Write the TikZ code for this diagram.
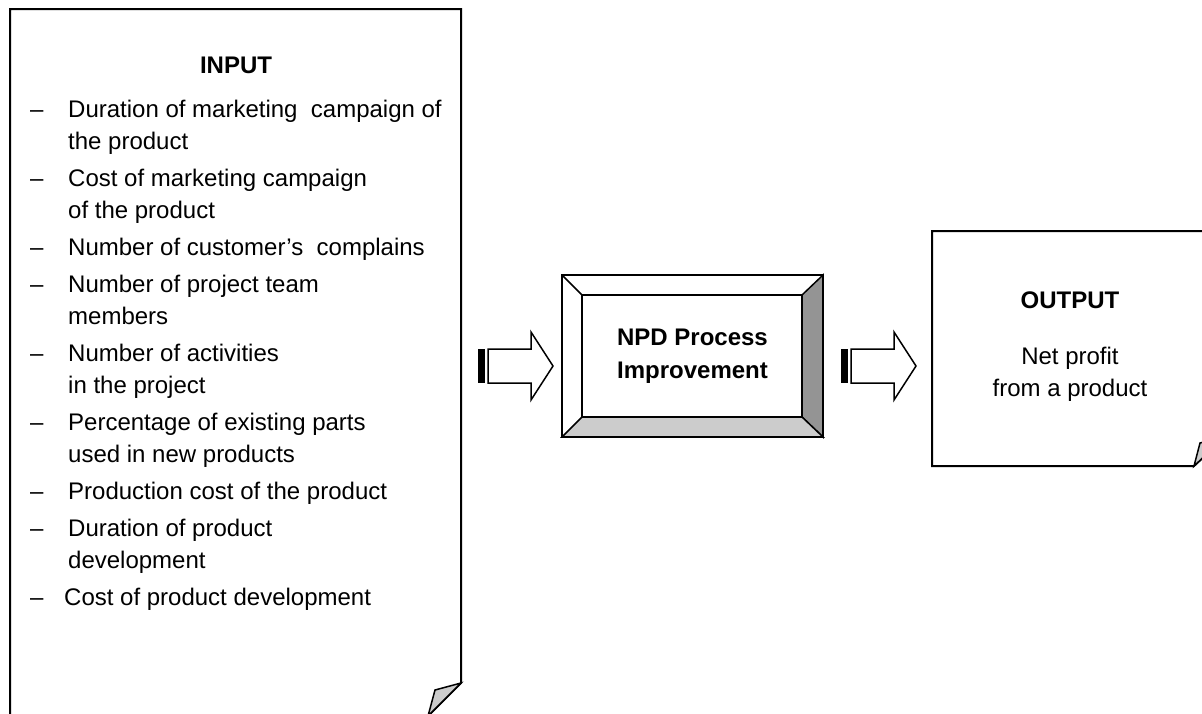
\documentclass[tikz,border=0pt]{standalone}
\usepackage{fontspec}
\setmainfont{Liberation Sans}
\begin{document}
\begin{tikzpicture}[x=1pt,y=-1pt,line join=miter,
  txt/.style={inner sep=0pt,anchor=base west,font=\fontsize{24}{32}\selectfont},
  ctxt/.style={inner sep=0pt,anchor=base,font=\fontsize{24}{32}\selectfont},
  hdr/.style={inner sep=0pt,anchor=base,font=\fontsize{24}{32}\selectfont\bfseries},
  docbox/.style={draw=black,line width=2pt,fill=white},
  foldcorner/.style={draw=black,line width=1.5pt,fill=black!20},
  stripearrow/.pic={
    \fill[black] (0,-17) rectangle (6.5,17);
    \draw[line width=1.5pt,fill=white] (10,-17) -- (53,-17) -- (53,-34) -- (75,0)
      -- (53,34) -- (53,17) -- (10,17) -- cycle;
  }]
\useasboundingbox (0,0) rectangle (1202,713);
\clip (0,0) rectangle (1202,713);

% ---------- INPUT document ----------
\draw[docbox] (10,716) -- (10,9) -- (461,9) -- (461,683) -- (428,716) -- cycle;
\draw[foldcorner] (428,716) -- (435,690) -- (461,683) -- cycle;
\node[hdr] (inhdr) at (236,73) {INPUT};

\node[txt] (d1) at (30,117) {\textendash};
\node[txt] (t1a) at (68,117) {Duration of marketing~ campaign of};
\node[txt] (t1b) at (68,149) {the product};
\node[txt] (d2) at (30,186) {\textendash};
\node[txt] (t2a) at (68,186) {Cost of marketing campaign};
\node[txt] (t2b) at (68,218) {of the product};
\node[txt] (d3) at (30,255) {\textendash};
\node[txt] (t3a) at (68,255) {Number of customer’s~ complains};
\node[txt] (d4) at (30,292) {\textendash};
\node[txt] (t4a) at (68,292) {Number of project team};
\node[txt] (t4b) at (68,324) {members};
\node[txt] (d5) at (30,361) {\textendash};
\node[txt] (t5a) at (68,361) {Number of activities};
\node[txt] (t5b) at (68,393) {in the project};
\node[txt] (d6) at (30,430) {\textendash};
\node[txt] (t6a) at (68,430) {Percentage of existing parts};
\node[txt] (t6b) at (68,462) {used in new products};
\node[txt] (d7) at (30,499) {\textendash};
\node[txt] (t7a) at (68,499) {Production cost of the product};
\node[txt] (d8) at (30,536) {\textendash};
\node[txt] (t8a) at (68,536) {Duration of product};
\node[txt] (t8b) at (68,568) {development};
\node[txt] (d9) at (30,605) {\textendash};
\node[txt] (t9a) at (64,605) {Cost of product development};

% ---------- arrows ----------
\pic at (478,366) {stripearrow};
\pic at (841,366) {stripearrow};

% ---------- bevel box ----------
\fill[white] (562,275) rectangle (823,437);
\filldraw[fill=black!42,draw=black,line width=1.5pt] (823,275) -- (823,437) -- (802,417) -- (802,295) -- cycle;
\filldraw[fill=black!20,draw=black,line width=1.5pt] (562,437) -- (823,437) -- (802,417) -- (582,417) -- cycle;
\draw[line width=1.5pt] (562,275) -- (582,295);
\draw[line width=1.5pt,fill=white] (582,295) rectangle (802,417);
\draw[line width=2.5pt] (562,275) rectangle (823,437);
\node[hdr] (np1) at (692.5,345) {NPD Process};
\node[hdr] (np2) at (692.5,378) {Improvement};

% ---------- OUTPUT document ----------
\draw[docbox] (932,466) -- (932,231) -- (1226,231) -- (1226,436) -- (1194,466) -- cycle;
\draw[foldcorner] (1194,466) -- (1200,443) -- (1226,436) -- cycle;
\node[hdr] (outhdr) at (1070,308) {OUTPUT};
\node[ctxt] (o1) at (1070,364) {Net profit};
\node[ctxt] (o2) at (1070,396) {from a product};
\end{tikzpicture}
\end{document}
